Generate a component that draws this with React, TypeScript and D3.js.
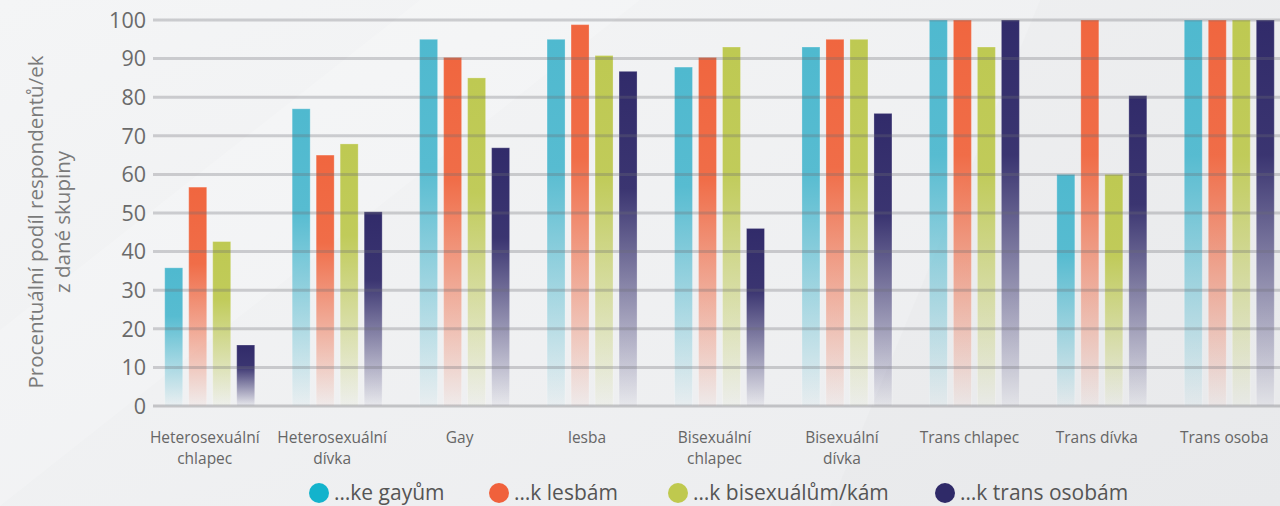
import React from "react";
import * as d3 from "d3";

const categories: string[][] = [
  ["Heterosexuální", "chlapec"],
  ["Heterosexuální", "dívka"],
  ["Gay"],
  ["lesba"],
  ["Bisexuální", "chlapec"],
  ["Bisexuální", "dívka"],
  ["Trans chlapec"],
  ["Trans dívka"],
  ["Trans osoba"],
];
const seriesNames = ["…ke gayům", "…k lesbám", "…k bisexuálům/kám", "…k trans osobám"];
const keGayum = [35.8, 77, 95, 95, 87.8, 93, 100, 60, 100];
const kLesbam = [56.7, 65, 90.3, 98.8, 90.3, 95, 100, 100, 100];
const kBisex = [42.6, 67.9, 85, 90.8, 93, 95, 93, 60, 100];
const kTrans = [15.8, 50.3, 66.9, 86.7, 46, 75.8, 100, 80.4, 100];
const seriesValues = [keGayum, kLesbam, kBisex, kTrans];
const yTicks = [0, 10, 20, 30, 40, 50, 60, 70, 80, 90, 100];

const barColors = ["#4fb9cf", "#f0663f", "#bec952", "#312b6a"];
const legendColors = ["#13b3cc", "#f0613c", "#bfc94e", "#2f2a68"];

const W = 1280;
const H = 506;
const FONT = "'Open Sans', 'Noto Sans', sans-serif";

export default function App() {
  const x0 = d3.scaleBand<number>().domain(d3.range(categories.length)).range([146, 1293]).paddingInner(0).paddingOuter(0);
  const half = x0.bandwidth() / 2;
  const x1 = d3.scaleBand<number>().domain(d3.range(4)).range([half - 48, half + 48]).paddingInner(0.25).paddingOuter(0.125);
  const y = d3.scaleLinear().domain([0, 100]).range([406, 20]);
  const gridX0 = 153;

  const legendX = [319, 499, 678, 945];

  return (
    <svg width={W} height={H} style={{ position: "absolute", left: 0, top: 0, display: "block" }} fontFamily={FONT}>
      <defs>
        <linearGradient id="bg" x1="0" y1="0" x2="1" y2="1">
          <stop offset="0" stopColor="#f4f5f6" />
          <stop offset="1" stopColor="#ebecee" />
        </linearGradient>
        {barColors.map((c, i) => (
          <linearGradient key={i} id={`g${i}`} x1="0" y1="0" x2="0" y2="1">
            <stop offset="0" stopColor={c} stopOpacity={1} />
            <stop offset="0.35" stopColor={c} stopOpacity={0.95} />
            <stop offset="1" stopColor={c} stopOpacity={0.04} />
          </linearGradient>
        ))}
      </defs>
      <rect x={0} y={0} width={W} height={H} fill="url(#bg)" />
      <polygon points="0,330 420,0 640,0 0,506" fill="#ffffff" opacity={0.18} />
      <polygon points="830,506 1040,0 1280,0 1280,506" fill="#000000" opacity={0.012} />

      {categories.map((_, ci) => (
        <g key={ci} transform={`translate(${x0(ci)},0)`}>
          {seriesValues.map((vals, si) => (
            <rect
              key={si}
              x={x1(si)}
              y={y(vals[ci])}
              width={x1.bandwidth()}
              height={y(0) - y(vals[ci])}
              fill={`url(#g${si})`}
              stroke="rgba(255,255,255,0.25)"
              strokeWidth={1}
            />
          ))}
        </g>
      ))}

      {yTicks.map((t) => (
        <line
          key={t}
          x1={gridX0}
          x2={W}
          y1={y(t)}
          y2={y(t)}
          stroke={t === 0 ? "rgba(120,120,125,0.38)" : "rgba(110,110,115,0.3)"}
          strokeWidth={3}
        />
      ))}

      {yTicks.map((t) => (
        <text key={t} x={146} y={y(t)} dy="0.36em" textAnchor="end" fontSize={21.5} fill="#6a6a6a">
          {t}
        </text>
      ))}

      <g transform="translate(36,222) rotate(-90)">
        <text textAnchor="middle" fontSize={20.5} fill="#7a7a7a" y={0} dy="0.35em">
          Procentuální podíl respondentů/ek
        </text>
        <text textAnchor="middle" fontSize={20.5} fill="#7a7a7a" y={27} dy="0.35em">
          z dané skupiny
        </text>
      </g>

      {categories.map((lines, ci) => (
        <text key={ci} textAnchor="middle" fontSize={15.5} fill="#666">
          {lines.map((l, li) => (
            <tspan key={li} x={(x0(ci) as number) + half - 5} y={443 + li * 21}>
              {l}
            </tspan>
          ))}
        </text>
      ))}

      {seriesNames.map((n, i) => (
        <g key={i}>
          <circle cx={legendX[i]} cy={493} r={10} fill={legendColors[i]} />
          <text x={legendX[i] + 15} y={500} fontSize={21} fill="#555">
            {n}
          </text>
        </g>
      ))}
    </svg>
  );
}
